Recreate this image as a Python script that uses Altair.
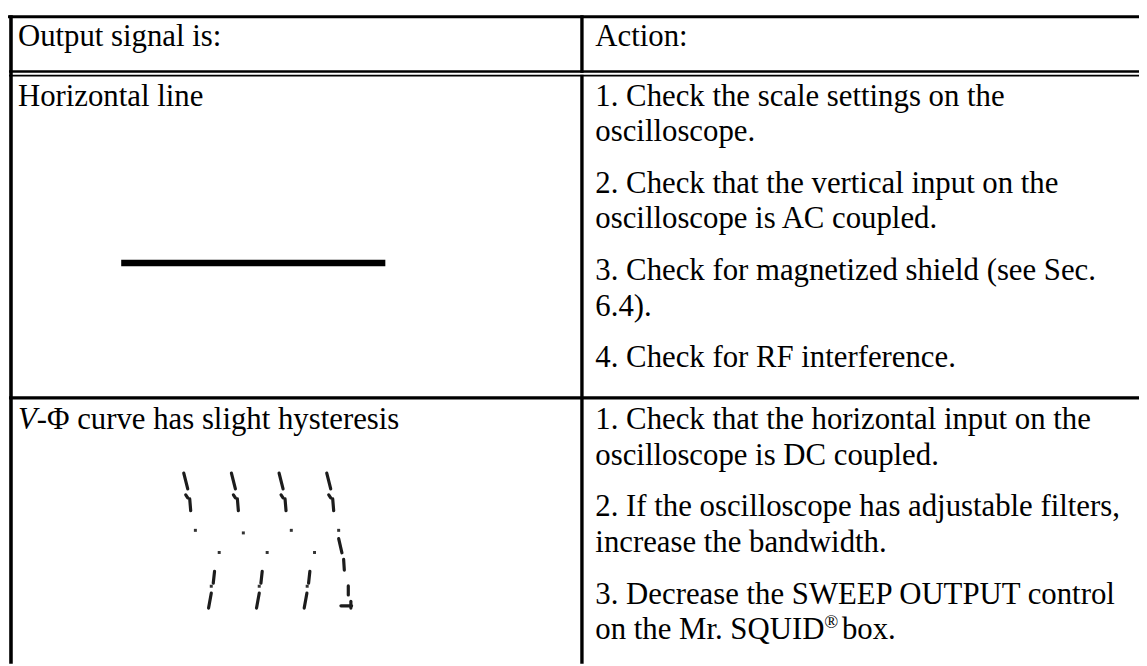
import altair as alt
import pandas as pd

# ---------------- table text ----------------
header_left = "Output signal is:"
header_right = "Action:"

row1_left = "Horizontal line"
row1_actions = [
    ["1. Check the scale settings on the", "oscilloscope."],
    ["2. Check that the vertical input on the", "oscilloscope is AC coupled."],
    ["3. Check for magnetized shield (see Sec.", "6.4)."],
    ["4. Check for RF interference."],
]

row2_left_italic = "V"
row2_left_rest = "-\u03a6 curve has slight hysteresis"
row2_actions = [
    ["1. Check that the horizontal input on the", "oscilloscope is DC coupled."],
    ["2. If the oscilloscope has adjustable filters,", "increase the bandwidth."],
    ["3. Decrease the SWEEP OUTPUT control", "on the Mr. SQUID"],
]
reg_mark = "\u00ae"
reg_tail = " box."

# ---------------- pictured traces ----------------
flat_x = [122, 388]
flat_y = [262.5, 262.5]

seg_x1 = [185, 187, 191, 233, 235, 239, 281, 283, 287, 329, 331, 335,
          341, 346, 216, 212.7, 264, 261, 312, 309, 350.7, 343.3, 353.3]
seg_y1 = [474, 496, 500, 474, 496, 500, 474, 496, 500, 474, 496, 500,
          540, 561, 573, 595, 573, 595, 573, 595, 587.7, 607.7, 603.3]
seg_x2 = [189, 189, 192, 237, 237, 240, 285, 285, 288, 333, 333, 336,
          344.3, 346.7, 214.7, 210, 262.7, 258.3, 310.7, 306.3, 350.7, 354, 353.3]
seg_y2 = [490, 499, 512, 490, 499, 512, 490, 499, 512, 490, 499, 512,
          554.3, 571.7, 585, 610, 585, 610, 585, 610, 596.7, 607.7, 610]
dot_x = [196.7, 245, 293.3, 341, 220.7, 269, 316.7, 212.7, 261, 309.3]
dot_y = [531.7, 534.3, 531.7, 531.7, 554, 554, 554, 588, 588, 588]

# ---------------- layout ----------------
FONT = "Liberation Serif"
FS = 31
LINE = 36
GAP = 15.7
LEFT_X = 18
RIGHT_X = 599.5
HEADER_BASE = 43.5
ROW1_BASE = 104
ROW2_BASE = 430

rows = []
rows.append(dict(x=LEFT_X, y=HEADER_BASE, t=header_left, fs=FS))
rows.append(dict(x=RIGHT_X, y=HEADER_BASE, t=header_right, fs=FS))
rows.append(dict(x=LEFT_X, y=ROW1_BASE, t=row1_left, fs=FS))
rows.append(dict(x=LEFT_X + 0.611 * FS, y=ROW2_BASE, t=row2_left_rest, fs=FS))


def place(paras, base):
    out = []
    y = base
    for p in paras:
        for line in p:
            out.append((line, y))
            y += LINE
        y += GAP
    return out


for t, y in place(row1_actions, ROW1_BASE):
    rows.append(dict(x=RIGHT_X, y=y, t=t, fs=FS))
last_y = None
for t, y in place(row2_actions, ROW2_BASE):
    rows.append(dict(x=RIGHT_X, y=y, t=t, fs=FS))
    last_y = y
squid_w = 7.499 * FS
rows.append(dict(x=RIGHT_X + squid_w - 2, y=last_y - 0.36 * FS, t=reg_mark, fs=0.6 * FS))
rows.append(dict(x=RIGHT_X + squid_w + 0.8 * 0.6 * FS + 1, y=last_y, t=reg_tail, fs=FS))

text_df = pd.DataFrame(rows)
ital_df = pd.DataFrame([dict(x=LEFT_X, y=ROW2_BASE, t=row2_left_italic)])

borders = pd.DataFrame(dict(
    x1=[8, 11, 586, 586, 9, 9, 9],
    y1=[14.5, 13, 13, 72.8, 69.6, 73.8, 398.3],
    x2=[1147, 11, 586, 586, 1147, 1147, 1147],
    y2=[14.5, 666, 71, 666, 69.6, 73.8, 398.3],
    w=[3, 3.6, 3.4, 3.4, 2.4, 1.6, 3.3],
))

segs = pd.DataFrame(dict(x1=seg_x1, y1=seg_y1, x2=seg_x2, y2=seg_y2))
dots = pd.DataFrame(dict(x=dot_x, y=dot_y))
flat = pd.DataFrame(dict(x=flat_x, y=flat_y))

W, H = 1139, 658
xs = alt.Scale(domain=[8, 1147], nice=False, zero=False)
ys = alt.Scale(domain=[8, 666], nice=False, zero=False, reverse=True)


def X(f):
    return alt.X(f, type="quantitative", scale=xs, axis=None)


def Y(f):
    return alt.Y(f, type="quantitative", scale=ys, axis=None)


border_layer = alt.Chart(borders).mark_rule(color="black", strokeCap="butt").encode(
    x=X("x1"), y=Y("y1"), x2="x2", y2="y2",
    strokeWidth=alt.StrokeWidth("w:Q", scale=None),
)

text_layer = alt.Chart(text_df).mark_text(
    font=FONT, align="left", baseline="alphabetic", color="black"
).encode(
    x=X("x"), y=Y("y"), text="t:N",
    size=alt.Size("fs:Q", scale=None),
)

ital_layer = alt.Chart(ital_df).mark_text(
    font=FONT, fontStyle="italic", align="left", baseline="alphabetic",
    color="black", fontSize=FS,
).encode(x=X("x"), y=Y("y"), text="t:N")

flat_layer = alt.Chart(flat).mark_line(color="black", strokeWidth=6.5, strokeCap="butt").encode(
    x=X("x"), y=Y("y"),
)

seg_layer = alt.Chart(segs).mark_rule(color="#1c1c1c", strokeWidth=3.2, strokeCap="round").encode(
    x=X("x1"), y=Y("y1"), x2="x2", y2="y2",
)

dot_layer = alt.Chart(dots).mark_square(color="#333333", size=9, opacity=1).encode(
    x=X("x"), y=Y("y"),
)

chart = alt.layer(border_layer, flat_layer, seg_layer, dot_layer, text_layer, ital_layer).properties(
    width=W, height=H, padding=0,
    autosize=alt.AutoSizeParams(type="none"),
    background="white",
).configure_view(stroke=None)

chart.save("out.html", embed_options={"renderer": "svg", "actions": False})
